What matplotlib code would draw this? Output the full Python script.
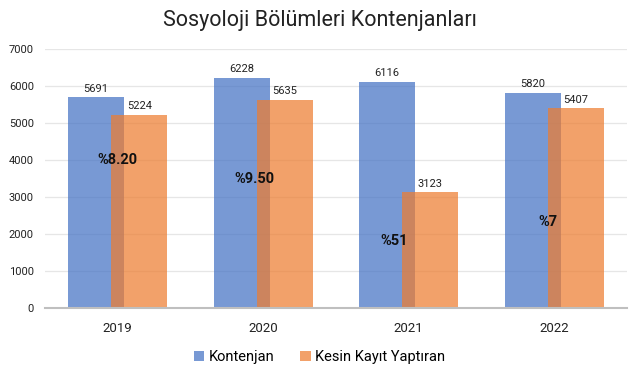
import matplotlib
matplotlib.use("Agg")
import matplotlib.pyplot as plt
import numpy as np

years = ["2019", "2020", "2021", "2022"]
kontenjan = [5691, 6228, 6116, 5820]
kayit = [5224, 5635, 3123, 5407]
pct_labels = ["%8.20", "%9.50", "%51", "%7"]
pct_pos_x = [0.0, -0.06, -0.1, -0.04]
pct_pos_y = [4000, 3480, 1800, 2330]

plt.rcParams['font.family'] = ['Roboto', 'DejaVu Sans']

fig = plt.figure(figsize=(6.39, 3.79), dpi=100)
ax = fig.add_axes([0.0704, 0.1873, 0.9106, 0.6834])

x = np.arange(len(years))
w = 0.385
off = 0.148
blue = "#4472C4"
orange = "#ED7D31"
b1 = ax.bar(x - off, kontenjan, w, color=blue, alpha=0.72, label="Kontenjan", zorder=2)
b2 = ax.bar(x + off, kayit, w, color=orange, alpha=0.72, label="Kesin Kayıt Yaptıran", zorder=3)

for xi, v in zip(x, kontenjan):
    ax.text(xi - off, v + 90, str(v), ha="center", va="bottom", fontsize=8, color="#222222", zorder=5)
for xi, v in zip(x, kayit):
    ax.text(xi + off, v + 90, str(v), ha="center", va="bottom", fontsize=8, color="#222222", zorder=5)

for xi, dx, yv, lab in zip(x, pct_pos_x, pct_pos_y, pct_labels):
    ax.text(xi + dx, yv, lab, ha="center", va="center", fontsize=10.5, fontweight="bold", color="#111111", zorder=6)

ax.set_xlim(-0.5, 3.5)
ax.set_ylim(0, 7000)
ax.set_yticks(range(0, 7001, 1000))
ax.set_xticks(x)
ax.set_xticklabels(years, fontsize=9.5, color="#222222")
ax.tick_params(axis="y", labelsize=8, colors="#222222", length=0, pad=8)
ax.tick_params(axis="x", length=0, pad=10)
ax.yaxis.grid(True, color="#E6E6E6", linewidth=0.9, zorder=0)
ax.set_axisbelow(True)
for s in ["top", "right", "left"]:
    ax.spines[s].set_visible(False)
ax.spines["bottom"].set_color("#BFBFBF")
ax.spines["bottom"].set_linewidth(1.5)
ax.spines["bottom"].set_zorder(4)

fig.text(0.5, 0.945, "Sosyoloji Bölümleri Kontenjanları", ha="center", va="center", fontsize=15.5,
         color="#222222")

fig.legend(handles=[b1, b2], loc="center", bbox_to_anchor=(0.5, 0.058), ncol=2, frameon=False,
           fontsize=10.5, handlelength=0.7, handleheight=0.7, handletextpad=0.3, columnspacing=1.8)

fig.savefig("out.png", dpi=100)
